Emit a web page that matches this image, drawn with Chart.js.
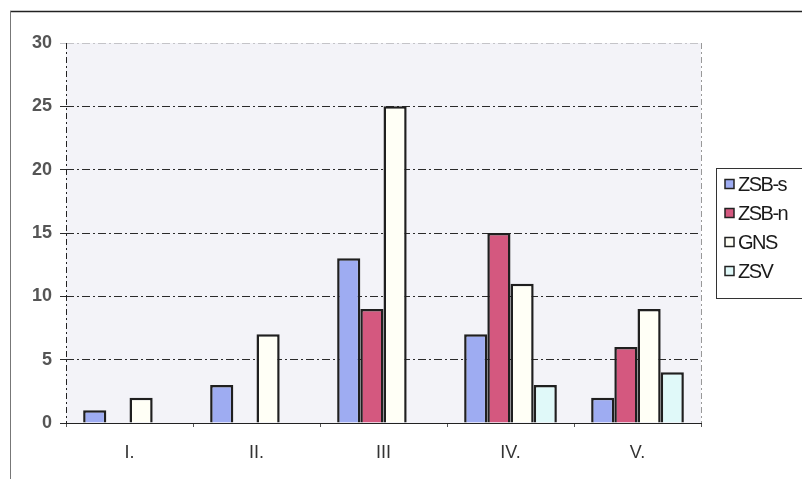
<!DOCTYPE html>
<html>
<head>
<meta charset="utf-8">
<script src="https://cdn.jsdelivr.net/npm/chart.js@4/dist/chart.umd.min.js"></script>
<style>
  html, body { margin: 0; padding: 0; background: #ffffff; }
  #wrap { position: relative; width: 802px; height: 479px; }
</style>
</head>
<body>
<div id="wrap"><canvas id="c" width="802" height="479"></canvas></div>
<script>
// Categories and series
const categories = ['I.', 'II.', 'III', 'IV.', 'V.'];
const zsbS = [1, 3, 13, 7, 2];
const zsbN = [0, 0, 9, 15, 6];
const gns  = [2, 7, 25, 11, 9];
const zsv  = [0, 0, 0, 3, 4];
const yTicks = [0, 5, 10, 15, 20, 25, 30];

const seriesNames = ['ZSB-s', 'ZSB-n', 'GNS', 'ZSV'];
const seriesFill = ['#9eacf2', '#d4587f', '#fffff6', '#e0f9f9'];

const FONT = '"Liberation Sans", Arial, sans-serif';

// Plot background, outer frame, right border and boxed legend
const decor = {
  id: 'decor',
  beforeDraw(chart) {
    const { ctx, chartArea: a } = chart;
    ctx.save();
    ctx.fillStyle = '#f3f3f8';
    ctx.fillRect(a.left, a.top, a.right - a.left, a.bottom - a.top);
    // outer frame
    ctx.strokeStyle = '#222';
    ctx.lineWidth = 1.5;
    ctx.beginPath();
    ctx.moveTo(10, 11.5);
    ctx.lineTo(802, 11.5);
    ctx.stroke();
    ctx.strokeStyle = '#777';
    ctx.lineWidth = 1;
    ctx.beginPath();
    ctx.moveTo(10.5, 11);
    ctx.lineTo(10.5, 479);
    ctx.stroke();
    ctx.restore();
  },
  afterDatasetsDraw(chart) {
    const { ctx, chartArea: a } = chart;
    ctx.save();
    // right edge of plot area
    ctx.strokeStyle = '#999';
    ctx.lineWidth = 1;
    ctx.setLineDash([6, 3, 2, 3]);
    ctx.beginPath();
    ctx.moveTo(a.right + 0.5, a.top);
    ctx.lineTo(a.right + 0.5, a.bottom);
    ctx.stroke();
    // left axis line
    ctx.strokeStyle = '#222';
    ctx.beginPath();
    ctx.moveTo(a.left + 0.5, a.top);
    ctx.lineTo(a.left + 0.5, a.bottom);
    ctx.stroke();
    ctx.setLineDash([]);

    // legend box
    const bx = 716.5, by = 168.5, bw = 100, bh = 130;
    ctx.fillStyle = '#ffffff';
    ctx.fillRect(bx, by, bw, bh);
    ctx.strokeStyle = '#333';
    ctx.lineWidth = 1;
    ctx.strokeRect(bx, by, bw, bh);
    ctx.font = '20px ' + FONT;
    if ('letterSpacing' in ctx) ctx.letterSpacing = '-1.5px';
    ctx.textBaseline = 'middle';
    chart.data.datasets.forEach((ds, i) => {
      const cy = 184 + i * 29;
      ctx.fillStyle = ds.backgroundColor;
      ctx.fillRect(725, cy - 4.5, 9, 9);
      ctx.strokeStyle = '#222';
      ctx.lineWidth = 1.5;
      ctx.strokeRect(725, cy - 4.5, 9, 9);
      ctx.fillStyle = '#1a1a1a';
      ctx.fillText(ds.label, 738, cy + 1);
    });
    ctx.restore();
  }
};

const datasets = [zsbS, zsbN, gns, zsv].map((vals, i) => ({
  label: seriesNames[i],
  data: vals,
  backgroundColor: seriesFill[i],
  borderColor: '#1f1f1f',
  borderWidth: 2.5,
  borderSkipped: 'bottom',
  barPercentage: 1.0,
  categoryPercentage: 0.73
}));

new Chart(document.getElementById('c'), {
  type: 'bar',
  data: { labels: categories, datasets },
  options: {
    responsive: false,
    animation: false,
    devicePixelRatio: 1,
    layout: { padding: { left: 0, top: 43, right: 101, bottom: 0 } },
    plugins: { legend: { display: false }, tooltip: { enabled: false } },
    scales: {
      x: {
        offset: true,
        afterFit(s) { s.height = 56; },
        grid: { display: true, offset: true, drawOnChartArea: false, drawTicks: true, tickLength: 4, color: '#555', lineWidth: 1 },
        border: { display: true, color: '#222', width: 1, dash: [6, 2] },
        ticks: { color: '#333', padding: 15, font: { family: FONT, size: 18 } }
      },
      y: {
        min: 0, max: 30,
        afterFit(s) { s.width = 66; },
        afterBuildTicks(s) { s.ticks = yTicks.map(v => ({ value: v })); },
        grid: {
          color: c => (c.tick && c.tick.value === 30) ? '#c4c4c8' : '#2a2a2a',
          lineWidth: 1,
          tickLength: 6,
          drawTicks: true
        },
        border: { display: false, dash: [8, 3, 2, 3] },
        ticks: { color: '#555', padding: 8, font: { family: FONT, size: 18, weight: 'bold' } }
      }
    }
  },
  plugins: [decor]
});
</script>
</body>
</html>
